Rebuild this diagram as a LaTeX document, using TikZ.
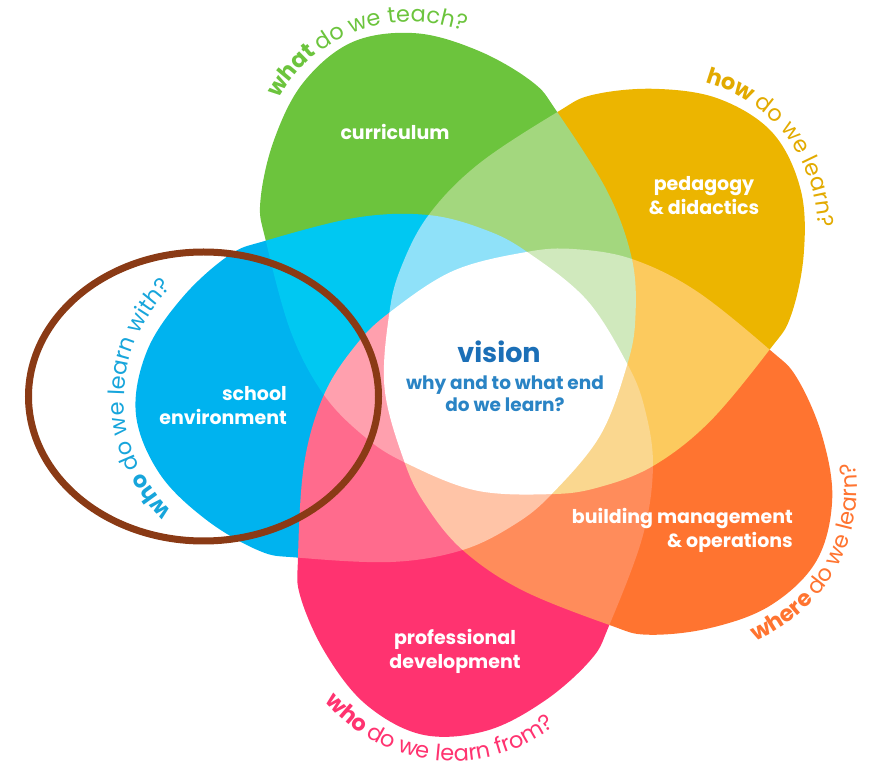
\documentclass[tikz,border=0pt]{standalone}
\usepackage{fontspec}
\setmainfont{Poppins}
\usetikzlibrary{calc,decorations.text}
\definecolor{cG}{HTML}{6CC43D}
\definecolor{cB}{HTML}{00B3EF}
\definecolor{cP}{HTML}{FF3370}
\definecolor{cO}{HTML}{FF7430}
\definecolor{cY}{HTML}{ECB500}
\definecolor{cGb}{HTML}{A3D77E}
\definecolor{cBb}{HTML}{00C8F2}
\definecolor{cPb}{HTML}{FF6B8D}
\definecolor{cOb}{HTML}{FF8C5B}
\definecolor{cYb}{HTML}{FCCA5E}
\definecolor{cGc}{HTML}{D0E9BD}
\definecolor{cBc}{HTML}{8FE1F9}
\definecolor{cPc}{HTML}{FFA0AE}
\definecolor{cOc}{HTML}{FFC4A7}
\definecolor{cYc}{HTML}{FAD78F}
\definecolor{tY}{HTML}{E2AA00}
\definecolor{tB}{HTML}{17A5DB}
\definecolor{cVis}{HTML}{1B6FB7}
\definecolor{cSub}{HTML}{2A84C5}
\definecolor{brownring}{HTML}{8A3A15}
% Catmull-Rom segment from #2 to #3 (neighbours #1 and #4)
\newcommand\seg[4]{.. controls ($(#2)+0.1667*(#3)-0.1667*(#1)$) and ($(#3)+0.1667*(#2)-0.1667*(#4)$) .. (#3)}
% outer lobe k (#1) from T(k+1) (#3) to T(k); #2 = k-1
\newcommand\lobe[3]{\seg{A#25}{T#3}{L#11}{L#12}\seg{T#3}{L#11}{L#12}{L#13}\seg{L#11}{L#12}{L#13}{L#14}\seg{L#12}{L#13}{L#14}{L#15}\seg{L#13}{L#14}{L#15}{L#16}\seg{L#14}{L#15}{L#16}{L#17}\seg{L#15}{L#16}{L#17}{T#1}\seg{L#16}{L#17}{T#1}{A#11}}
% second loop: #1=k, #2=k+2, #3=k-1, #4=k+3
\newcommand\ltwo[4]{\seg{L#17}{T#1}{A#11}{p#1}\seg{T#1}{A#11}{p#1}{A#12}\seg{A#24}{p#1}{A#25}{T#3}\seg{p#1}{A#25}{T#3}{L#41}}
% third loop: #1=k, #2=k-1, #3=k+1
\newcommand\lthree[3]{\seg{A#11}{p#1}{A#12}{q#2}\seg{p#1}{A#12}{q#2}{A#13}\seg{A#33}{q#2}{A#34}{p#2}\seg{q#2}{A#34}{p#2}{A#35}}
% inner loop: #1=k, #2=k-1, #3=k+1
\newcommand\lfour[3]{\seg{A#32}{q#1}{A#33}{q#2}\seg{q#1}{A#33}{q#2}{A#34}}
\def\Lone{(T1)\lobe{0}{4}{1}\lobe{4}{3}{0}\lobe{3}{2}{4}\lobe{2}{1}{3}\lobe{1}{0}{2} -- cycle}
\def\Ltwo{(T0)\ltwo{0}{2}{4}{3}\ltwo{4}{1}{3}{2}\ltwo{3}{0}{2}{1}\ltwo{2}{4}{1}{0}\ltwo{1}{3}{0}{4} -- cycle}
\def\Lthree{(p0)\lthree{0}{4}{1}\lthree{4}{3}{0}\lthree{3}{2}{4}\lthree{2}{1}{3}\lthree{1}{0}{2} -- cycle}
\def\Lfour{(q0)\lfour{0}{4}{1}\lfour{4}{3}{0}\lfour{3}{2}{4}\lfour{2}{1}{3}\lfour{1}{0}{2} -- cycle}
\def\b{77.8}
\tikzset{
  lab/.style={text=white,font=\bfseries\fontsize{19}{24}\selectfont,inner sep=0pt},
  ring/.style={draw=brownring,line width=7pt}
}
\begin{document}
\begin{tikzpicture}[x=1pt,y=1pt]
\useasboundingbox (0,0) rectangle (881,769);
\coordinate (O) at (500,392);
\foreach \k in {0,...,4}{
  \pgfmathsetmacro\a{\b+72*\k}
  \coordinate (T\k) at ($(O)+(\a:271)$);
  \coordinate (p\k) at ($(O)+(\a-36:177)$);
  \coordinate (q\k) at ($(O)+(\a:128)$);
  \coordinate (A\k1) at ($(O)+(\a-18:214)$);
  \coordinate (A\k2) at ($(O)+(\a-54:148)$);
  \coordinate (A\k3) at ($(O)+(\a-108:116)$);
  \coordinate (A\k4) at ($(O)+(\a-162:148)$);
  \coordinate (A\k5) at ($(O)+(\a-198:214)$);
  \coordinate (L\k1) at ($(O)+(\a+66:297)$);
  \coordinate (L\k2) at ($(O)+(\a+56:327)$);
  \coordinate (L\k3) at ($(O)+(\a+46:354)$);
  \coordinate (L\k4) at ($(O)+(\a+36:366)$);
  \coordinate (L\k5) at ($(O)+(\a+26:354)$);
  \coordinate (L\k6) at ($(O)+(\a+16:327)$);
  \coordinate (L\k7) at ($(O)+(\a+6:297)$);
}
% layer 1: outer lobes
\foreach \k/\c in {0/cG,1/cB,2/cP,3/cO,4/cY}{
  \begin{scope}
    \clip (O) -- ($(O)+(\b+72*\k:900)$) -- ($(O)+(\b+72*\k+36:900)$) -- ($(O)+(\b+72*\k+72:900)$) -- cycle;
    \fill[\c] \Lone;
  \end{scope}
}
% layer 2
\foreach \k/\c in {0/cGb,1/cBb,2/cPb,3/cOb,4/cYb}{
  \begin{scope}
    \clip (O) -- ($(O)+(\b+72*\k-36:900)$) -- ($(O)+(\b+72*\k:900)$) -- ($(O)+(\b+72*\k+36:900)$) -- cycle;
    \fill[\c] \Ltwo;
  \end{scope}
}
% layer 3
\foreach \k/\c in {0/cGc,1/cBc,2/cPc,3/cOc,4/cYc}{
  \begin{scope}
    \clip (O) -- ($(O)+(\b+72*\k-72:900)$) -- ($(O)+(\b+72*\k-36:900)$) -- ($(O)+(\b+72*\k:900)$) -- cycle;
    \fill[\c] \Lthree;
  \end{scope}
}
% centre
\fill[white] \Lfour;
% labels (anchor = baseline of the last line)
\node[lab,anchor=base] (curr) at (395,629) {curriculum};
\node[lab,align=center,anchor=base] (peda) at (704,554) {pedagogy\\\& didactics};
\node[lab,align=right,anchor=base east] (school) at (287,344) {school\\environment};
\node[lab,align=right,anchor=base east] (build) at (793,221) {building management\\\& operations};
\node[lab,align=center,anchor=base] (prof) at (455,101) {professional\\development};
\node[font=\bfseries\fontsize{27}{30}\selectfont,text=cVis,anchor=base,inner sep=0pt] (vis) at (499,406) {vision};
\node[font=\bfseries\fontsize{18.5}{22}\selectfont,text=cSub,align=center,anchor=base,inner sep=0pt] (why) at (505,357) {why and to what end\\do we learn?};
% curved questions
\fontsize{22.5}{26}\selectfont
\path[decorate,decoration={text along path,text align=center,text color=cG,text={|\bfseries|what |\mdseries|do we teach?}}]
  ($(O)+(\b+36:222)+(\b+112:152)$) arc[start angle=\b+112,end angle=\b-48,radius=152];
\path[decorate,decoration={text along path,text align=center,text color=tY,text={|\bfseries|how |\mdseries|do we learn?}}]
  ($(O)+(\b+324:222)+(\b+400:152)$) arc[start angle=\b+400,end angle=\b+240,radius=152];
\path[decorate,decoration={text along path,text align=center,text color=tB,text={|\bfseries|who |\mdseries|do we learn with?}}]
  ($(O)+(\b+108:222)+(\b+182:155)$) arc[start angle=\b+182,end angle=\b+22,radius=155];
\path[decorate,decoration={text along path,text align=center,text color=cP,text={|\bfseries|who |\mdseries|do we learn from?}}]
  ($(O)+(\b+180:222)+(\b+106:167)$) arc[start angle=\b+106,end angle=\b+266,radius=167];
\path[decorate,decoration={text along path,text align=center,text color=cO,text={|\bfseries|where |\mdseries|do we learn?}}]
  ($(O)+(\b+252:222)+(\b+173:165)$) arc[start angle=\b+173,end angle=\b+333,radius=165];
% ring
\draw[ring] (203.5,372.5) ellipse [x radius=175, y radius=144.5];
\end{tikzpicture}
\end{document}
